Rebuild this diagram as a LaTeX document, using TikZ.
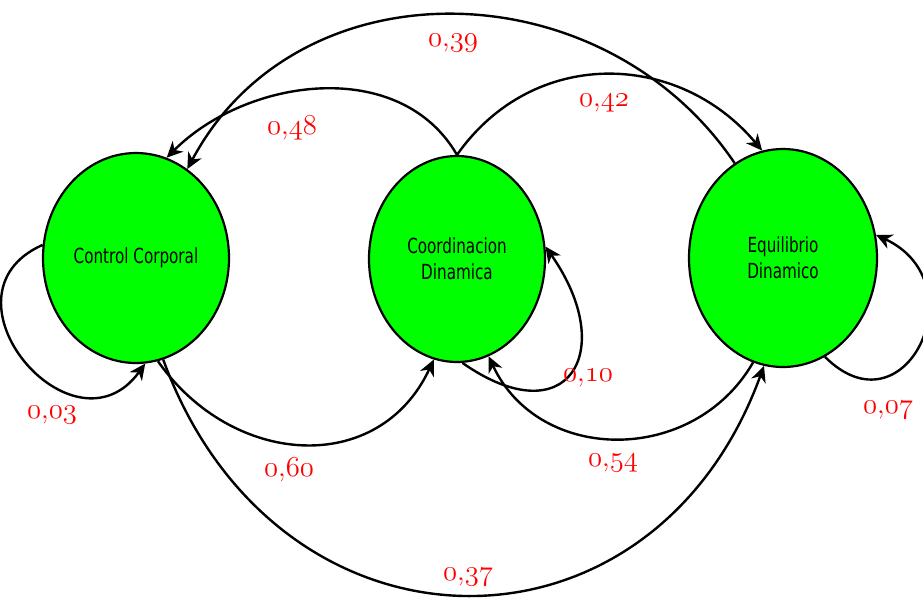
\documentclass[tikz,border=0pt]{standalone}
\usepackage{fontspec}
\usepackage{tikz}
\usetikzlibrary{arrows.meta,shapes.geometric}
\newfontfamily\estadofont[FakeStretch=0.73]{DejaVu Sans}
\definecolor{estadoverde}{HTML}{00FF00}
\definecolor{pesorojo}{HTML}{FF0000}
\newcommand{\osf}[1]{{\usefont{OML}{lmm}{m}{it}#1}}
\newcommand{\prob}[2]{\osf{#1},\osf{#2}}

\begin{document}
\begin{tikzpicture}[
  x=0.5pt, y=0.5pt,
  >={Stealth[length=8pt,width=7.5pt,inset=2.5pt]},
  estado/.style={draw, ellipse, fill=estadoverde, line width=1.1pt,
                 inner sep=0pt, align=center,
                 font=\estadofont\fontsize{10.4}{13}\selectfont},
  trans/.style={->, line width=1.2pt},
  peso/.style={text=pesorojo, inner sep=1pt, font=\fontsize{14}{16}\selectfont},
]
\useasboundingbox (0,0) rectangle (923,-601);

% --- States ---
\node[estado, minimum width=93pt, minimum height=105pt] (cc) at (136,-258) {Control Corporal};
\node[estado, minimum width=88pt, minimum height=103pt] (cd) at (457,-259) {Coordinacion\\Dinamica};
\node[estado, minimum width=94pt, minimum height=109pt] (ed) at (783,-258) {Equilibrio\\Dinamico};

% --- Upper arcs ---
\draw[trans] (ed.117) to[out=124,in=62,looseness=1.1] (cc.60);
\draw[trans] (cd.north) to[out=120,in=45] (cc.73);
\draw[trans] (cd.north) to[out=55,in=130,looseness=1.1] (ed.101);

% --- Lower arcs ---
\draw[trans] (cc.-78) to[out=-55,in=-115,looseness=1.2] (cd.-103);
\draw[trans] (cc.-75) to[out=-70,in=-110,looseness=1.4] (ed.-100);
\draw[trans] (ed.-106) to[out=-120,in=-65,looseness=1.15] (cd.-72);

% --- Self loops ---
\draw[trans] (cc.172) to[out=204,in=234,looseness=2] (cc.-85);
\draw[trans] (cd.-87) to[out=-35,in=-55,looseness=2.3] (cd.8);
\draw[trans] (ed.-67) to[out=-45,in=-25,looseness=2.2] (ed.14);

% --- Transition weights ---
\node[peso] (w39) at (453,-43)  {\prob{0}{39}};
\node[peso] (w42) at (604,-103) {\prob{0}{42}};
\node[peso] (w48) at (292,-128) {\prob{0}{48}};
\node[peso] (w03) at (52,-415)  {\prob{0}{03}};
\node[peso] (w60) at (289,-470) {\prob{0}{60}};
\node[peso] (w10) at (588,-378) {\prob{0}{10}};
\node[peso] (w54) at (613,-463) {\prob{0}{54}};
\node[peso] (w07) at (888,-410) {\prob{0}{07}};
\node[peso] (w37) at (468,-577) {\prob{0}{37}};
\end{tikzpicture}
\end{document}
